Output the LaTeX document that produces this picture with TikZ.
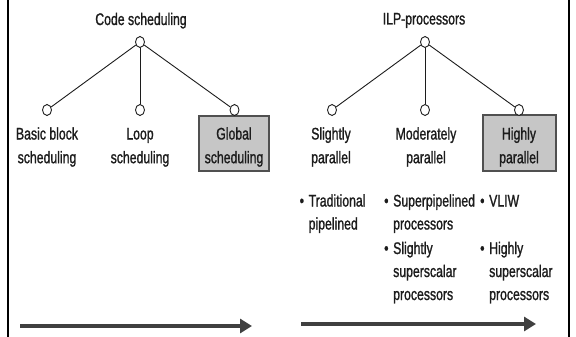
\documentclass[tikz,border=0pt]{standalone}
\usepackage{fontspec}
\setmainfont{Liberation Sans}[FakeStretch=0.73,FakeBold=1.2]
\usetikzlibrary{shapes.geometric,arrows.meta}
\definecolor{ink}{RGB}{28,28,28}
\definecolor{boxfill}{RGB}{198,198,198}
\definecolor{boxedge}{RGB}{80,80,80}
\definecolor{arrowgray}{RGB}{64,64,64}
\newcommand\bul{\makebox[9pt][l]{•}}
\newcommand\ind{\makebox[9pt]{}}
\begin{document}
\begin{tikzpicture}[x=1pt,y=-1pt,
  every node/.style={text=ink},
  txt/.style={font={\fontsize{16.8}{23.7}\selectfont},inner sep=0pt},
  itemtxt/.style={font={\fontsize{16.8}{23}\selectfont},inner sep=0pt,
    align=left,anchor=base west},
  hub/.style={ellipse,draw=ink,line width=0.9pt,fill=white,
    minimum width=9pt,minimum height=11pt,inner sep=0pt},
  leafbox/.style={draw=boxedge,line width=1.1pt,fill=boxfill,inner sep=0pt},
  branch/.style={draw=ink,line width=0.9pt},
  scale arrow/.style={draw=arrowgray,line width=3.6pt,
    -{Triangle[length=12pt,width=14pt]}}
]
\useasboundingbox (0,0) rectangle (576,337);

% frame lines at the sides
\draw[line width=2.4pt,black] (8,0) -- (8,337);
\draw[line width=2.4pt,black] (569,0) -- (569,337);

% multi-line nodes are anchored at the baseline of their last line

% ---------- code scheduling tree ----------
\node[txt,anchor=base] (cshead) at (141,25) {Code scheduling};
\node[hub] (ctop) at (140,42) {};
\node[hub] (cl) at (47,110) {};
\node[hub] (cm) at (140,110) {};
\node[leafbox,minimum width=70pt,minimum height=55pt] (gbox) at (234,143.5) {};
\node[hub] (cr) at (234.5,110) {};
\draw[branch] (ctop) -- (cl);
\draw[branch] (ctop) -- (cm);
\draw[branch] (ctop) -- (cr);
\node[txt,align=center,anchor=base] (bbs) at (47,163.2) {Basic block\\scheduling};
\node[txt,align=center,anchor=base] (lps) at (140,163.2) {Loop\\scheduling};
\node[txt,align=center,anchor=base] (gls) at (234,163.2) {Global\\scheduling};

% ---------- ILP processor tree ----------
\node[txt,anchor=base] (ilphead) at (424,24.5) {ILP-processors};
\node[hub] (ptop) at (425,42) {};
\node[hub] (pl) at (332,110) {};
\node[hub] (pm) at (425,110) {};
\node[leafbox,minimum width=73pt,minimum height=56pt] (hbox) at (519.5,143) {};
\node[hub] (pr) at (519,110) {};
\draw[branch] (ptop) -- (pl);
\draw[branch] (ptop) -- (pm);
\draw[branch] (ptop) -- (pr);
\node[txt,align=center,anchor=base] (slp) at (331,163.2) {Slightly\\parallel};
\node[txt,align=center,anchor=base] (mdp) at (426,163.2) {Moderately\\parallel};
\node[txt,align=center,anchor=base] (hgp) at (519,163.2) {Highly\\parallel};

% ---------- example processors ----------
\node[itemtxt] (trad) at (299.5,229.5) {\bul Traditional\\\ind pipelined};
\node[itemtxt] (supp) at (384,229.5) {\bul Superpipelined\\\ind processors};
\node[itemtxt] (slss) at (384,300) {\bul Slightly\\\ind superscalar\\\ind processors};
\node[itemtxt] (vliw) at (480,206.5) {\bul VLIW};
\node[itemtxt] (hgss) at (480,300) {\bul Highly\\\ind superscalar\\\ind processors};

% ---------- direction arrows ----------
\coordinate (la) at (20,326);
\coordinate (lb) at (252,326);
\coordinate (ra) at (301,324);
\coordinate (rb) at (536,324);
\draw[scale arrow] (la) -- (lb);
\draw[scale arrow] (ra) -- (rb);
\end{tikzpicture}
\end{document}
